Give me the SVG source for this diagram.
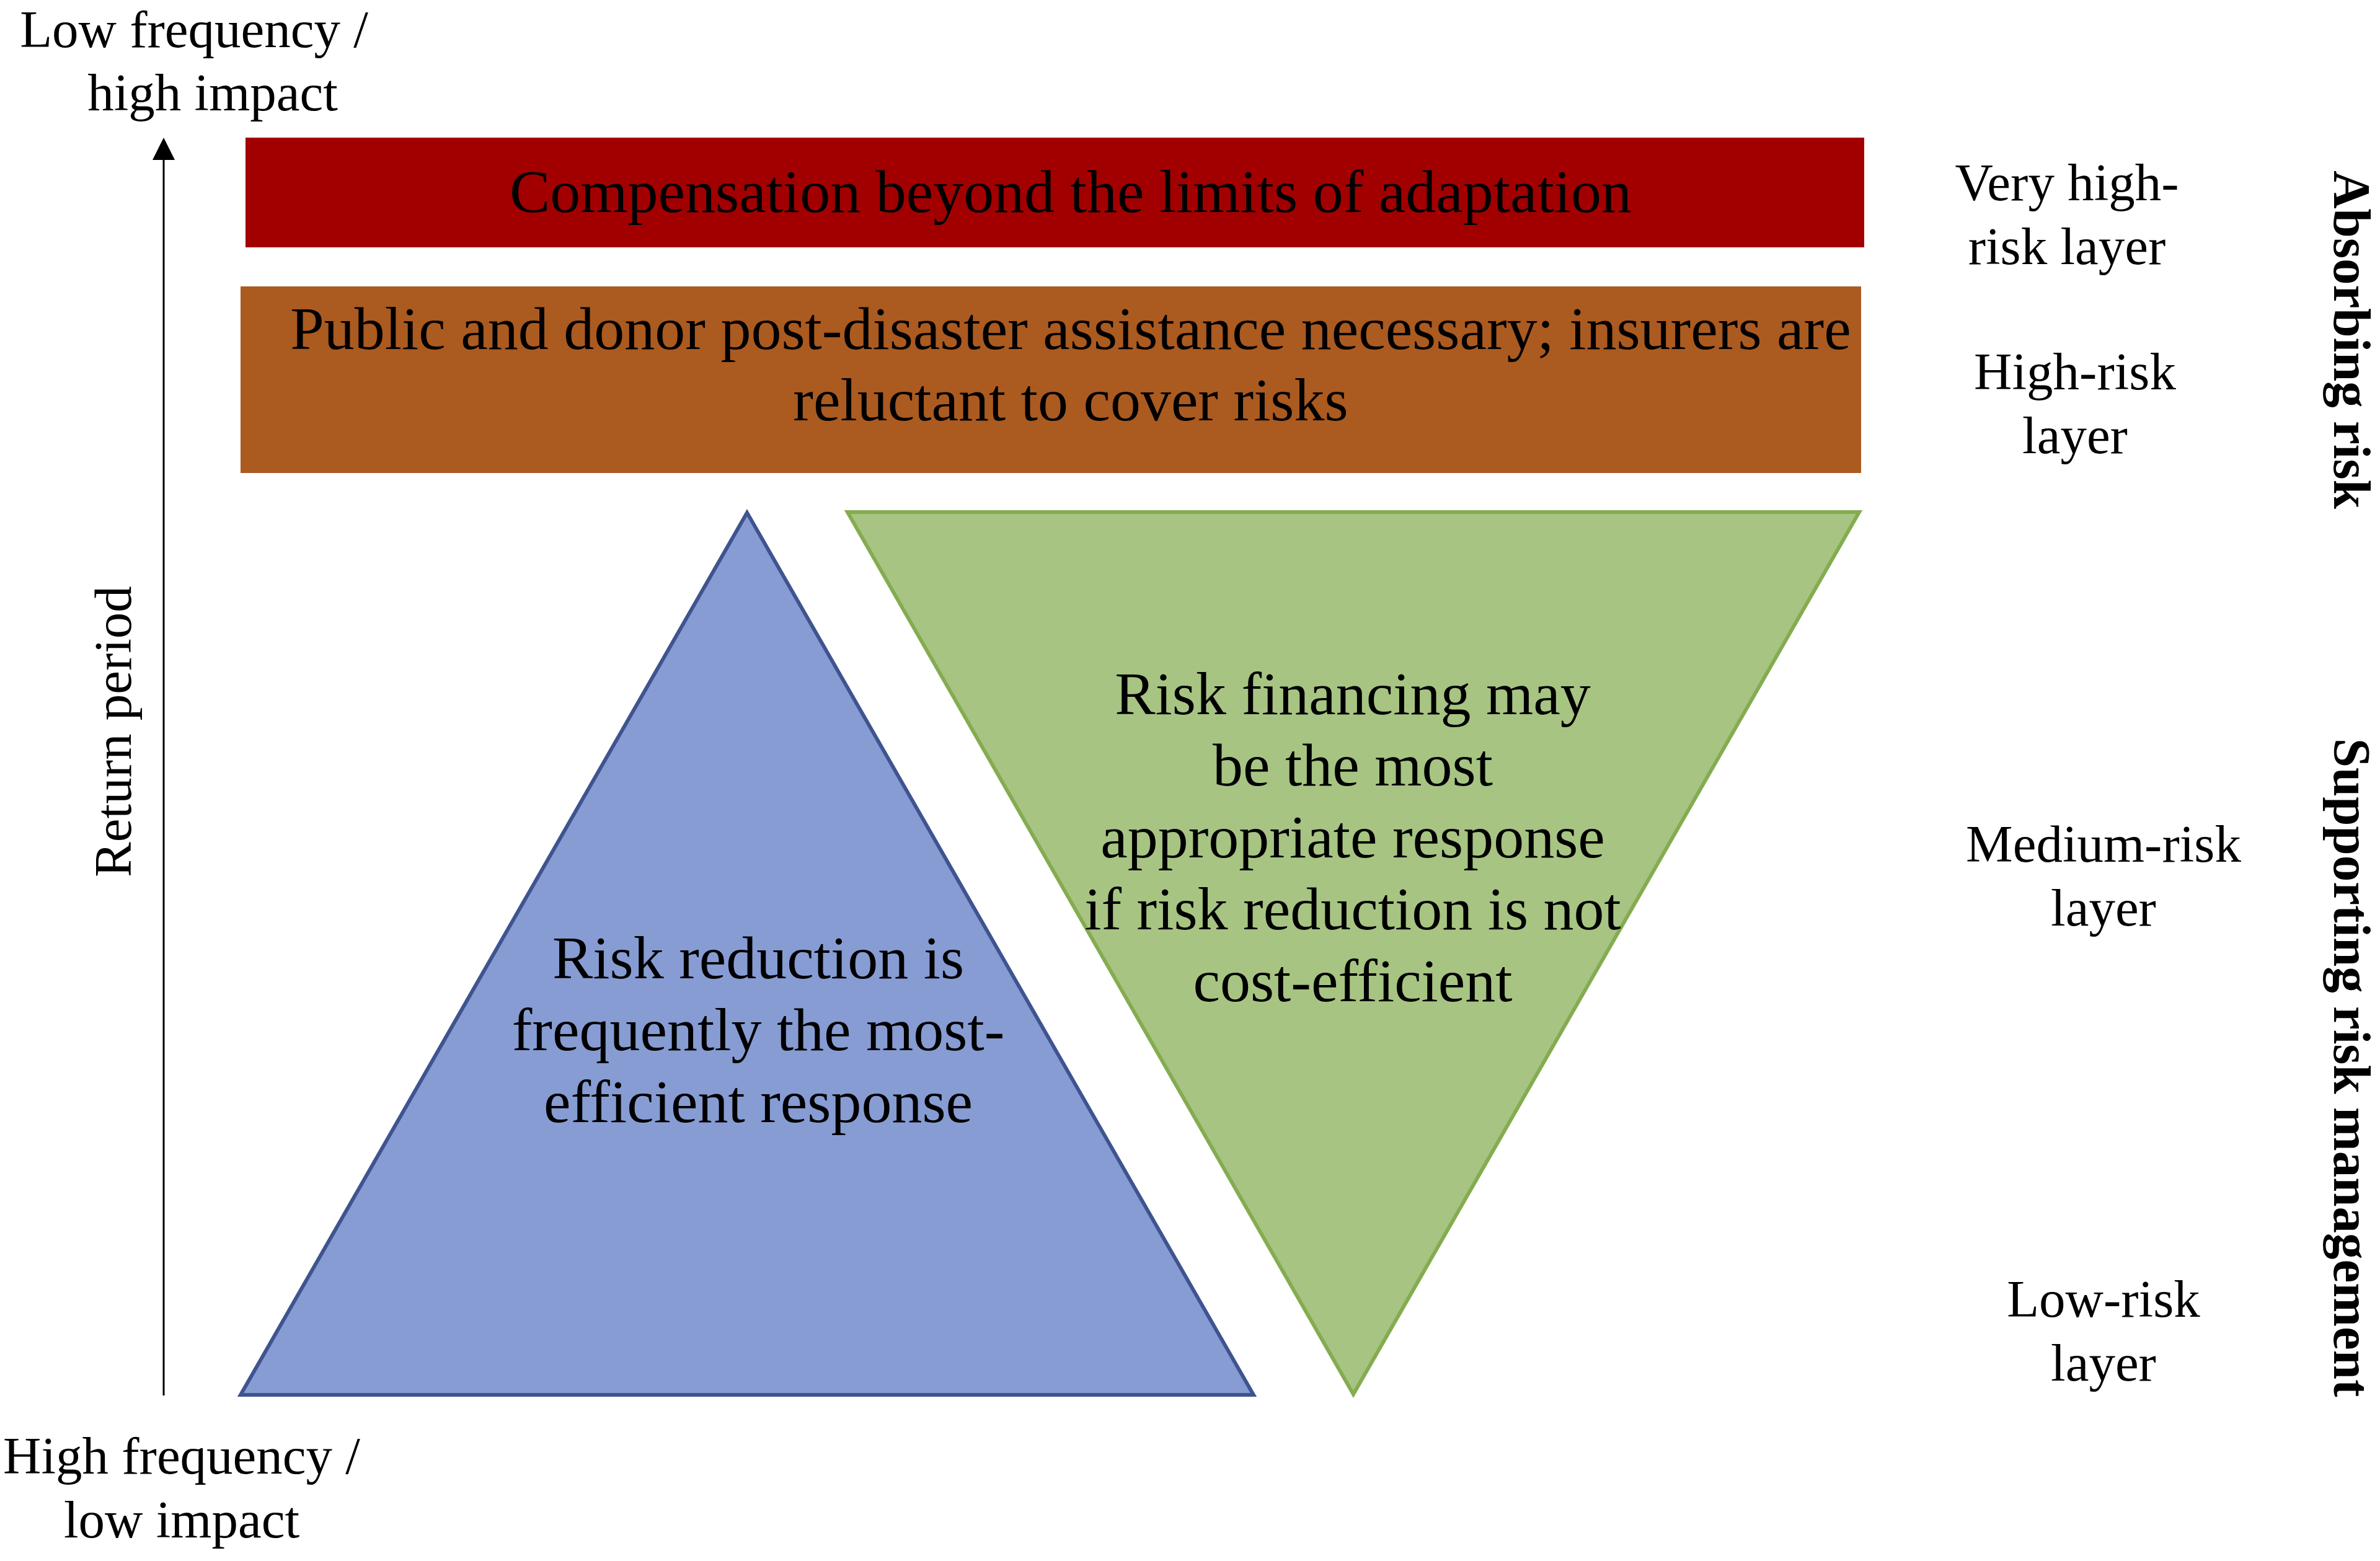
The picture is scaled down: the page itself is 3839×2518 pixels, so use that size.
<svg xmlns="http://www.w3.org/2000/svg" width="3839" height="2518" viewBox="0 0 3839 2518">
<style>
text{font-family:"Liberation Serif","Times New Roman",serif;fill:#000}
.ax{font-size:85px}
.bx{font-size:98px;text-anchor:middle}
.lab{font-size:85px;text-anchor:middle}
.ttl{font-size:85px;font-weight:bold;text-anchor:middle}
</style>
<rect width="3839" height="2518" fill="#fff"/>
<g id="axis">
<line x1="264" y1="2251" x2="264" y2="256" stroke="#000" stroke-width="3"/>
<polygon points="264,222 246,258 282,258" fill="#000"/>
<text class="ax" x="313" y="76" text-anchor="middle">Low frequency /</text>
<text class="ax" x="343" y="178" text-anchor="middle">high impact</text>
<text class="ax" x="293" y="2377" text-anchor="middle">High frequency /</text>
<text class="ax" x="293" y="2480" text-anchor="middle">low impact</text>
<text class="ax" transform="translate(211,1180) rotate(-90)" text-anchor="middle">Return period</text>
</g>
<g id="very-high-risk">
<rect x="396" y="222" width="2611" height="177" fill="#A20000"/>
<text class="bx" x="1727" y="342">Compensation beyond the limits of adaptation</text>
</g>
<g id="high-risk">
<rect x="388" y="462" width="2614" height="301" fill="#AB5A20"/>
<text class="bx" x="1727" y="563">Public and donor post-disaster assistance necessary; insurers are</text>
<text class="bx" x="1727" y="678">reluctant to cover risks</text>
</g>
<g id="risk-reduction">
<polygon points="1205,827 388,2250 2022,2250" fill="#869CD3" stroke="#3F548F" stroke-width="6"/>
<text class="bx" x="1223" y="1578">Risk reduction is</text>
<text class="bx" x="1223" y="1694">frequently the most-</text>
<text class="bx" x="1223" y="1810">efficient response</text>
</g>
<g id="risk-financing">
<polygon points="1367,826 2999,826 2183,2249" fill="#A7C483" stroke="#84AC50" stroke-width="6"/>
<text class="bx" x="2182" y="1152">Risk financing may</text>
<text class="bx" x="2182" y="1267">be the most</text>
<text class="bx" x="2182" y="1383">appropriate response</text>
<text class="bx" x="2182" y="1499">if risk reduction is not</text>
<text class="bx" x="2182" y="1615">cost-efficient</text>
</g>
<g id="layer-labels">
<text class="lab" x="3334" y="323">Very high-</text>
<text class="lab" x="3334" y="426">risk layer</text>
<text class="lab" x="3347" y="628">High-risk</text>
<text class="lab" x="3347" y="731">layer</text>
<text class="lab" x="3393" y="1390">Medium-risk</text>
<text class="lab" x="3393" y="1493">layer</text>
<text class="lab" x="3393" y="2124">Low-risk</text>
<text class="lab" x="3393" y="2227">layer</text>
</g>
<g id="section-titles">
<text class="ttl" transform="translate(3765,548) rotate(90)">Absorbing risk</text>
<text class="ttl" transform="translate(3765,1722) rotate(90)">Supporting risk management</text>
</g>
</svg>
